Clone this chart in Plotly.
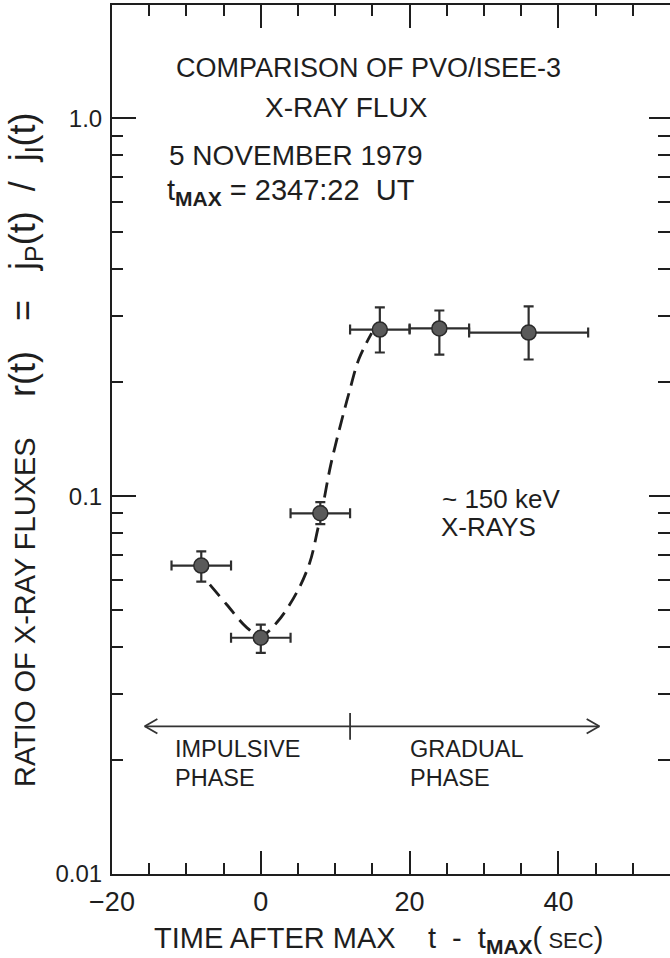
import plotly.graph_objects as go

# ---- data ----
t = [-8, 0, 8, 16, 24, 36]                      # time after max (s)
t_err = [4, 4, 4, 4, 4, 8]                      # half-width of time bins
ratio = [0.0655, 0.0422, 0.0901, 0.276, 0.278, 0.271]
ratio_plus = [0.0059, 0.0035, 0.0063, 0.040, 0.032, 0.047]
ratio_minus = [0.0061, 0.0037, 0.0058, 0.036, 0.041, 0.041]

# dashed guide curve
curve_t = [-6.85, -4.56, -1.88, 0.0, 2.15, 4.83, 6.58, 7.65, 8.3, 9.4, 10.7, 11.9, 13.2, 14.9]
curve_r = [0.0583, 0.0516, 0.0449, 0.0427, 0.0463, 0.0556, 0.0667, 0.0817, 0.0935,
           0.121, 0.154, 0.189, 0.231, 0.270]

# phase arrow
phase_t_start = -15.6
phase_t_split = 12.0
phase_t_end = 45.5
phase_level = 0.0246

x_ticks = [-20, 0, 20, 40]
x_ticktext = ["\u221220", "0", "20", "40"]
y_ticks = [0.01, 0.1, 1.0]
y_ticktext = ["0.01", "0.1", "1.0"]
y_minor = [v * d for d in (0.01, 0.1) for v in range(2, 10)]

FONT = "Liberation Sans"
INK = "#1e1e1e"

fig = go.Figure()

# dashed curve
fig.add_trace(go.Scatter(
    x=curve_t, y=curve_r, mode="lines", line_shape="spline",
    line=dict(color=INK, width=2.8, dash="15px,8px"), hoverinfo="skip"))

# phase arrow (line, heads, divider)
hx, hf, tf = 1.7, 1.045, 1.085
ax_x = [phase_t_start, phase_t_end, None,
        phase_t_start + hx, phase_t_start, phase_t_start + hx, None,
        phase_t_end - hx, phase_t_end, phase_t_end - hx, None,
        phase_t_split, phase_t_split]
ax_y = [phase_level, phase_level, None,
        phase_level * hf, phase_level, phase_level / hf, None,
        phase_level * hf, phase_level, phase_level / hf, None,
        phase_level / tf, phase_level * tf]
fig.add_trace(go.Scatter(x=ax_x, y=ax_y, mode="lines",
                         line=dict(color="#333333", width=1.8), hoverinfo="skip"))

# data points with error bars
fig.add_trace(go.Scatter(
    x=t, y=ratio, mode="markers",
    marker=dict(size=15, color="#5a5a5a", line=dict(color="#2a2a2a", width=1.5)),
    error_x=dict(type="data", array=t_err, color="#2e2e2e", thickness=2.2, width=5),
    error_y=dict(type="data", symmetric=False, array=ratio_plus, arrayminus=ratio_minus,
                 color="#2e2e2e", thickness=2.2, width=5)))

# right-hand y axis ticks only
fig.add_trace(go.Scatter(x=[None], y=[None], yaxis="y2", showlegend=False))

ann = []
def txt(text, x, y, size, xanchor="center", **kw):
    ann.append(dict(text=text, x=x, y=y, xref="paper", yref="paper", showarrow=False,
                    xanchor=xanchor, yanchor="middle",
                    font=dict(family=FONT, size=size, color=INK), **kw))

# plot area: x 112..670 px, y 5..874 px
def px(x):
    return (x - 112) / 558.0
def py(y):
    return (874 - y) / 869.0

NB = "\u00a0"
SUB = "<sub><span style='font-size:21px'><b>MAX</b></span></sub>"
txt("COMPARISON OF PVO/ISEE-3", px(368), py(68), 27)
txt("X-RAY FLUX", px(346), py(107), 28)
txt("5 NOVEMBER 1979", px(167), py(155), 28, xanchor="left")
txt("t" + SUB + NB + "=" + NB + "2347:22" + NB * 2 + "UT", px(165), py(192), 29, xanchor="left")
txt("~ 150 keV", px(440), py(499), 26, xanchor="left")
txt("X-RAYS", px(439), py(527), 26, xanchor="left")
txt("IMPULSIVE", px(173), py(749), 23.5, xanchor="left")
txt("PHASE", px(173), py(778), 23.5, xanchor="left")
txt("GRADUAL", px(408), py(749), 23.5, xanchor="left")
txt("PHASE", px(408), py(778), 23.5, xanchor="left")
txt("TIME AFTER MAX" + NB * 4 + "t" + NB * 2 + "-" + NB * 2 + "t" + SUB
    + "(<span style='font-size:22px'>" + NB + "SEC</span>)",
    px(378), py(940), 29)
FORM = ("<span style='font-size:36px'>r(t)" + NB * 3 + "=" + NB * 3
        + "j<sub><span style='font-size:25px'>P</span></sub>(t)" + NB * 2 + "/" + NB * 2
        + "j<sub><span style='font-size:25px'>I</span></sub>(t)</span>")
txt("RATIO OF X-RAY FLUXES" + NB * 5 + FORM, px(25), py(450), 29, textangle=-90)

fig.update_layout(
    width=670, height=958,
    margin=dict(l=112, r=0, t=5, b=84),
    paper_bgcolor="white", plot_bgcolor="white",
    showlegend=False,
    annotations=ann,
    xaxis=dict(
        range=[-20, 55], tickvals=x_ticks, ticktext=x_ticktext,
        ticks="inside", ticklen=23, tickwidth=2, tickcolor=INK,
        minor=dict(dtick=5, tick0=0, ticks="inside", ticklen=11, tickwidth=2, tickcolor=INK),
        showline=True, linecolor=INK, linewidth=2, mirror="ticks",
        showgrid=False, zeroline=False,
        tickfont=dict(family=FONT, size=27, color=INK), ticklabelstandoff=3),
    yaxis=dict(
        type="log", range=[-2, 0.3], tickvals=y_ticks, ticktext=y_ticktext,
        ticks="inside", ticklen=24, tickwidth=2, tickcolor=INK,
        minor=dict(tickvals=y_minor, ticks="inside", ticklen=11, tickwidth=2, tickcolor=INK),
        showline=True, linecolor=INK, linewidth=2, mirror=False,
        showgrid=False, zeroline=False,
        tickfont=dict(family=FONT, size=24, color=INK), ticklabelstandoff=3),
    yaxis2=dict(
        type="log", range=[-2, 0.3], overlaying="y", side="right",
        tickvals=y_ticks, showticklabels=False,
        ticks="inside", ticklen=21, tickwidth=2, tickcolor=INK,
        minor=dict(tickvals=y_minor, ticks="inside", ticklen=12, tickwidth=2, tickcolor=INK),
        showline=False, showgrid=False, zeroline=False),
)

fig.write_html("out.html")
